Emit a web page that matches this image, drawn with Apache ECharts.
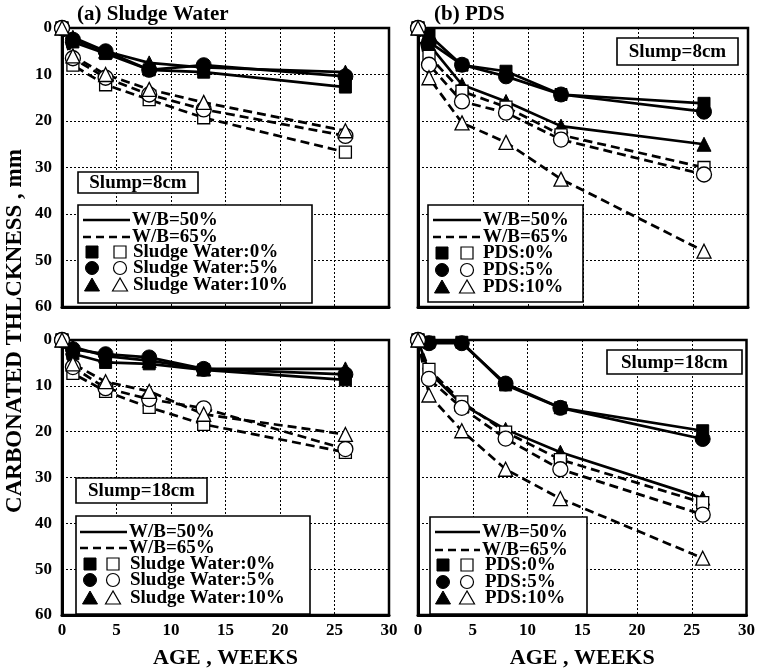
<!DOCTYPE html>
<html><head><meta charset="utf-8">
<script src="https://cdn.jsdelivr.net/npm/echarts@6/dist/echarts.min.js"></script>
<style>html,body{margin:0;padding:0;background:#fff}#c{width:758px;height:670px}</style>
</head><body><div id="c"></div>
<script>
// ---------------- data ----------------
const weeks = [0, 1, 4, 8, 13, 26];
const xTicks = [0, 5, 10, 15, 20, 25, 30];
const yTicks = [0, 10, 20, 30, 40, 50, 60];

// (a) Sludge Water, Slump = 8 cm
const a_wb50_0  = [0, 3.0, 5.5, 9.0, 9.5, 12.7];
const a_wb50_5  = [0, 2.5, 5.0, 9.0, 8.0, 10.4];
const a_wb50_10 = [0, 2.0, 5.0, 7.5, 8.5, 9.5];
const a_wb65_0  = [0, 8.0, 12.2, 15.4, 19.3, 26.7];
const a_wb65_5  = [0, 6.5, 10.7, 14.3, 17.5, 23.2];
const a_wb65_10 = [0, 6.0, 10.0, 13.2, 16.0, 22.1];

// (b) PDS, Slump = 8 cm
const b_wb50_0  = [0, 1.5, 8.0, 9.3, 14.3, 16.2];
const b_wb50_5  = [0, 3.0, 7.9, 10.4, 14.3, 18.0];
const b_wb50_10 = [0, 3.5, 12.2, 15.8, 21.1, 25.0];
const b_wb65_0  = [0, 6.1, 13.6, 17.0, 23.0, 30.0];
const b_wb65_5  = [0, 7.9, 15.8, 18.2, 24.0, 31.5];
const b_wb65_10 = [0, 10.7, 20.4, 24.6, 32.5, 48.0];

// (c) Sludge Water, Slump = 18 cm
const c_wb50_0  = [0, 3.0, 4.9, 5.2, 6.5, 8.7];
const c_wb50_5  = [0, 2.0, 3.1, 3.8, 6.3, 7.5];
const c_wb50_10 = [0, 1.5, 3.5, 4.5, 6.3, 6.3];
const c_wb65_0  = [0, 7.3, 11.2, 14.7, 18.4, 24.5];
const c_wb65_5  = [0, 5.9, 10.5, 12.9, 14.9, 23.8];
const c_wb65_10 = [0, 5.2, 9.1, 11.2, 16.2, 20.6];

// (d) PDS, Slump = 18 cm
const d_wb50_0  = [0, 0.5, 0.5, 9.8, 14.8, 19.8];
const d_wb50_5  = [0, 0.7, 0.7, 9.5, 14.8, 21.6];
const d_wb50_10 = [0, 7.0, 14.0, 19.5, 24.5, 34.5];
const d_wb65_0  = [0, 6.4, 13.5, 20.1, 26.1, 35.5];
const d_wb65_5  = [0, 8.5, 14.8, 21.5, 28.2, 38.1];
const d_wb65_10 = [0, 12.0, 19.8, 28.2, 34.6, 47.6];

const panelTitles = ['(a) Sludge Water', '(b) PDS'];
const slumpLabels = ['Slump=8cm', 'Slump=8cm', 'Slump=18cm', 'Slump=18cm'];
const wbLabels = ['W/B=50%', 'W/B=65%'];
const sludgeLabels = ['Sludge Water:0%', 'Sludge Water:5%', 'Sludge Water:10%'];
const pdsLabels = ['PDS:0%', 'PDS:5%', 'PDS:10%'];
const xTitle = 'AGE , WEEKS';
const yTitle = 'CARBONATED THLCKNESS , mm';

// ---------------- layout / style ----------------
const FONT = '"Liberation Serif","Times New Roman",serif';
const grids = [
  {left: 62, top: 28, width: 327, height: 279},
  {left: 418, top: 28, width: 330, height: 279},
  {left: 62, top: 340, width: 327, height: 282},
  {left: 418, top: 340, width: 330, height: 282}
];
const panelData = [
  [[a_wb50_0, a_wb50_5, a_wb50_10], [a_wb65_0, a_wb65_5, a_wb65_10]],
  [[b_wb50_0, b_wb50_5, b_wb50_10], [b_wb65_0, b_wb65_5, b_wb65_10]],
  [[c_wb50_0, c_wb50_5, c_wb50_10], [c_wb65_0, c_wb65_5, c_wb65_10]],
  [[d_wb50_0, d_wb50_5, d_wb50_10], [d_wb65_0, d_wb65_5, d_wb65_10]]
];
const shapes = ['rect', 'circle', 'triangle'];
const sizes = [12, 15, 14];

const xAxes = [], yAxes = [], gridOpts = [], series = [];
grids.forEach((g, i) => {
  gridOpts.push(Object.assign({show: true, borderColor: '#000', borderWidth: 2.5, backgroundColor: 'transparent'}, g));
  const bottom = i >= 2, left = i % 2 === 0;
  xAxes.push({
    type: 'value', gridIndex: i, min: xTicks[0], max: xTicks[xTicks.length - 1],
    interval: xTicks[1] - xTicks[0],
    axisLine: {show: true, onZero: false, lineStyle: {color: '#000', width: 3}},
    axisTick: {show: false},
    axisLabel: {show: bottom, color: '#000', fontFamily: FONT, fontWeight: 'bold', fontSize: 17, margin: 7},
    splitLine: {show: true, lineStyle: {color: '#000', width: 1, type: [2, 2]}},
    name: bottom ? xTitle : '', nameLocation: 'middle', nameGap: 32,
    nameTextStyle: {color: '#000', fontFamily: FONT, fontWeight: 'bold', fontSize: 22}
  });
  yAxes.push({
    type: 'value', gridIndex: i, inverse: true, min: yTicks[0], max: yTicks[yTicks.length - 1],
    interval: yTicks[1] - yTicks[0],
    axisLine: {show: true, onZero: false, lineStyle: {color: '#000', width: 3}},
    axisTick: {show: false},
    axisLabel: {show: left, color: '#000', fontFamily: FONT, fontWeight: 'bold', fontSize: 17, margin: 10},
    splitLine: {show: true, lineStyle: {color: '#000', width: 1, type: [2, 2]}}
  });
  const [solid, dashed] = panelData[i];
  solid.forEach((vals, k) => {
    series.push({
      type: 'line', xAxisIndex: i, yAxisIndex: i, clip: false,
      data: weeks.map((w, j) => [w, vals[j]]),
      symbol: shapes[k], symbolSize: sizes[k], showAllSymbol: true,
      lineStyle: {color: '#000', width: 2.7, type: 'solid'},
      itemStyle: {color: '#000', borderColor: '#000', borderWidth: 1},
      z: 3
    });
  });
  dashed.forEach((vals, k) => {
    series.push({
      type: 'line', xAxisIndex: i, yAxisIndex: i, clip: false,
      data: weeks.map((w, j) => [w, vals[j]]),
      symbol: shapes[k], symbolSize: sizes[k], showAllSymbol: true,
      lineStyle: {color: '#000', width: 2.7, type: [9, 5]},
      itemStyle: {color: '#fff', borderColor: '#000', borderWidth: 1.3},
      z: 4
    });
  });
});

// ---------------- graphics (titles, boxes, legends) ----------------
const G = [];
function txt(x, y, t, size, opts) {
  G.push(Object.assign({type: 'text', x: x, y: y, z: 120,
    style: {text: t, fill: '#000', font: 'bold ' + size + 'px ' + FONT, align: 'left', verticalAlign: 'middle'}}, opts || {}));
}
function box(x1, y1, x2, y2) {
  G.push({type: 'rect', z: 110, shape: {x: x1, y: y1, width: x2 - x1, height: y2 - y1},
    style: {fill: '#fff', stroke: '#000', lineWidth: 1.6}});
}
function marker(kind, filled, cx, cy) {
  const style = filled ? {fill: '#000', stroke: '#000', lineWidth: 1} : {fill: '#fff', stroke: '#000', lineWidth: 1.2};
  if (kind === 0) G.push({type: 'rect', z: 115, shape: {x: cx - 6, y: cy - 6, width: 12, height: 12}, style: style});
  else if (kind === 1) G.push({type: 'circle', z: 115, shape: {cx: cx, cy: cy, r: 6.5}, style: style});
  else G.push({type: 'polygon', z: 115, shape: {points: [[cx, cy - 7], [cx - 7.5, cy + 6], [cx + 7.5, cy + 6]]}, style: style});
}
function legend(o) {
  box(o.box[0], o.box[1], o.box[2], o.box[3]);
  G.push({type: 'line', z: 115, shape: {x1: o.l[0], y1: o.rows[0], x2: o.l[1], y2: o.rows[0]}, style: {stroke: '#000', lineWidth: 2.5}});
  G.push({type: 'line', z: 115, shape: {x1: o.l[0], y1: o.rows[1], x2: o.l[1], y2: o.rows[1]}, style: {stroke: '#000', lineWidth: 2.5, lineDash: [8, 5]}});
  txt(o.l[1] + 2, o.rows[0], wbLabels[0], 19);
  txt(o.l[1] + 2, o.rows[1], wbLabels[1], 19);
  for (let k = 0; k < 3; k++) {
    marker(k, true, o.fx, o.rows[2 + k]);
    marker(k, false, o.ox, o.rows[2 + k]);
    txt(o.tx, o.rows[2 + k], o.labels[k], 19);
  }
}
function slump(b, t) {
  box(b[0], b[1], b[2], b[3]);
  txt((b[0] + b[2]) / 2, (b[1] + b[3]) / 2 + 1, t, 19, {});
  G[G.length - 1].style.align = 'center';
}

txt(77, 15, panelTitles[0], 21);
txt(434, 15, panelTitles[1], 21);
G.push({type: 'text', x: 15, y: 331, rotation: Math.PI / 2, z: 120,
  style: {text: yTitle, fill: '#000', font: 'bold 23px ' + FONT, align: 'center', verticalAlign: 'middle'}});

slump([78, 172, 198, 193], slumpLabels[0]);
slump([617, 38, 738, 65], slumpLabels[1]);
slump([76, 478, 207, 503], slumpLabels[2]);
slump([607, 350, 742, 374], slumpLabels[3]);

legend({box: [78, 205, 312, 303], l: [83, 130], fx: 92, ox: 120, tx: 133, rows: [220, 237, 252, 268, 285], labels: sludgeLabels});
legend({box: [428, 205, 583, 302], l: [433, 481], fx: 442, ox: 467, tx: 483, rows: [220, 237, 253, 270, 287], labels: pdsLabels});
legend({box: [76, 516, 310, 614], l: [80, 127], fx: 90, ox: 113, tx: 130, rows: [532, 548, 564, 580, 598], labels: sludgeLabels});
legend({box: [430, 517, 587, 614], l: [435, 480], fx: 443, ox: 467, tx: 485, rows: [532, 550, 565, 582, 598], labels: pdsLabels});

const chart = echarts.init(document.getElementById('c'), null, {renderer: 'canvas'});
chart.setOption({
  animation: false,
  backgroundColor: '#fff',
  grid: gridOpts,
  xAxis: xAxes,
  yAxis: yAxes,
  series: series,
  graphic: G
});
</script></body></html>
